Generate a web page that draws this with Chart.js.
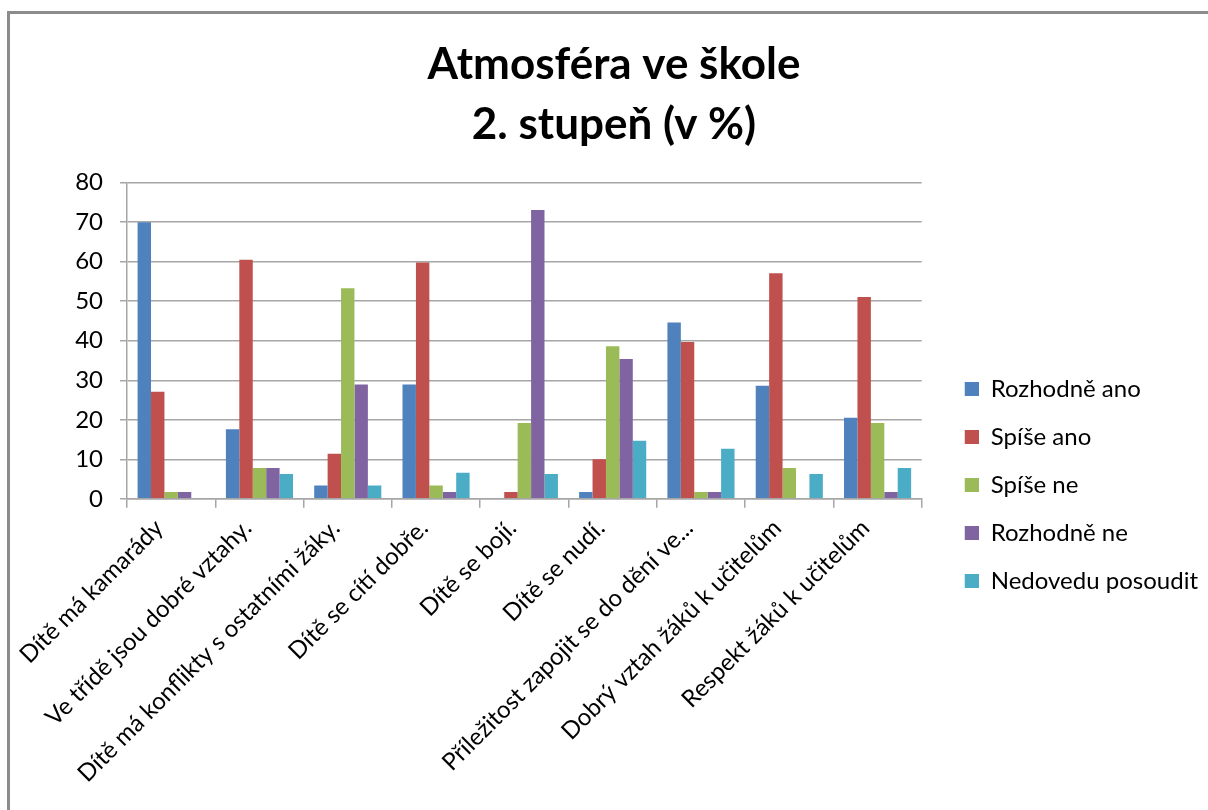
<!DOCTYPE html>
<html lang="cs">
  <head>
    <meta charset="UTF-8" />
    <script src="https://cdn.jsdelivr.net/npm/chart.js"></script>
    <style>
      body {
        margin: 0;
        background: #fff;
        overflow: hidden;
      }
      #frame {
        position: absolute;
        left: 7px;
        top: 11px;
        width: 1400px;
        height: 1000px;
        border-top: 3px solid #8c8c8c;
        border-left: 3px solid #8c8c8c;
      }
      #wrap {
        position: absolute;
        left: 0;
        top: 0;
        width: 1208px;
        height: 810px;
      }
    </style>
  </head>
  <body>
    <div id="frame"></div>
    <div id="wrap">
      <canvas id="atmosChart" width="1208" height="810"></canvas>
    </div>

    <script>
      // kategorie (osa x)
      const categories = [
        "Dítě má kamarády",
        "Ve třídě jsou dobré vztahy.",
        "Dítě má konflikty s ostatními žáky.",
        "Dítě se cítí dobře.",
        "Dítě se bojí.",
        "Dítě se nudí.",
        "Příležitost zapojit se do dění ve...",
        "Dobrý vztah žáků k učitelům",
        "Respekt žáků k učitelům",
      ];

      // hodnoty v %
      const rozhodneAno = [70, 17.6, 3.4, 28.9, 0, 1.7, 44.6, 28.6, 20.5];
      const spiseAno = [27.1, 60.5, 11.4, 59.8, 1.7, 10, 39.7, 57.1, 51.1];
      const spiseNe = [1.7, 7.8, 53.3, 3.4, 19.2, 38.6, 1.7, 7.8, 19.2];
      const rozhodneNe = [1.7, 7.8, 28.9, 1.7, 73.1, 35.4, 1.7, 0, 1.7];
      const nedovedu = [0, 6.3, 3.4, 6.6, 6.3, 14.7, 12.7, 6.3, 7.8];

      const seriesNames = ["Rozhodně ano", "Spíše ano", "Spíše ne", "Rozhodně ne", "Nedovedu posoudit"];
      const seriesColors = ["#4f81bd", "#c0504d", "#9bbb59", "#8064a2", "#4bacc6"];
      const yTicks = [0, 10, 20, 30, 40, 50, 60, 70, 80];

      const FONT = "Lato, 'Open Sans', sans-serif";
      const gridGray = "#a6a6a6";

      // znacka legendy: ctverec s mezerou vlevo (odsazeni legendy od grafu)
      function legendMark(color) {
        const c = document.createElement("canvas");
        c.width = 33;
        c.height = 14;
        const g = c.getContext("2d");
        g.fillStyle = color;
        g.fillRect(19, 0, 14, 14);
        return c;
      }
      const marks = seriesColors.map(legendMark);

      const allSeries = [rozhodneAno, spiseAno, spiseNe, rozhodneNe, nedovedu];

      const ctx = document.getElementById("atmosChart").getContext("2d");
      const atmosChart = new Chart(ctx, {
        type: "bar",
        data: {
          labels: categories,
          datasets: allSeries.map((d, i) => ({
            label: seriesNames[i],
            data: d,
            backgroundColor: seriesColors[i],
          })),
        },
        options: {
          responsive: false,
          animation: false,
          devicePixelRatio: 1,
          layout: {
            padding: { left: 20, right: 0, top: 0, bottom: 16 },
          },
          datasets: {
            bar: { categoryPercentage: 0.76, barPercentage: 1.0 },
          },
          plugins: {
            title: {
              display: true,
              text: ["Atmosféra ve škole", "2. stupeň (v %)"],
              color: "#000",
              font: { family: FONT, size: 44, weight: "bold", lineHeight: 1.36 },
              padding: { top: 35, bottom: 28 },
            },
            legend: {
              position: "right",
              align: "center",
              title: {
                display: true,
                text: " ",
                font: { family: FONT, size: 20 },
                padding: { top: 152, bottom: 0 },
              },
              labels: {
                usePointStyle: true,
                pointStyleWidth: 33,
                boxHeight: 14,
                padding: 24,
                color: "#000",
                font: { family: FONT, size: 24 },
                generateLabels: (chart) =>
                  Chart.defaults.plugins.legend.labels
                    .generateLabels(chart)
                    .map((item, i) => ({ ...item, pointStyle: marks[i] })),
              },
            },
            tooltip: { enabled: false },
          },
          scales: {
            x: {
              grid: {
                display: true,
                drawOnChartArea: false,
                offset: true,
                color: gridGray,
                lineWidth: 1.5,
                tickLength: 9,
              },
              border: { color: gridGray, width: 1.5 },
              ticks: {
                color: "#000",
                minRotation: 45,
                maxRotation: 45,
                autoSkip: false,
                padding: 6,
                labelOffset: -12,
                font: { family: FONT, size: 24 },
              },
            },
            y: {
              min: 0,
              max: 80,
              afterFit: (scale) => {
                scale.width = 107;
              },
              afterBuildTicks: (scale) => {
                scale.ticks = yTicks.map((v) => ({ value: v }));
              },
              grid: { color: gridGray, lineWidth: 1.5, tickLength: 7 },
              border: { color: gridGray, width: 1.5 },
              ticks: {
                color: "#000",
                padding: 17,
                font: { family: FONT, size: 24 },
              },
            },
          },
        },
      });
    </script>
  </body>
</html>
